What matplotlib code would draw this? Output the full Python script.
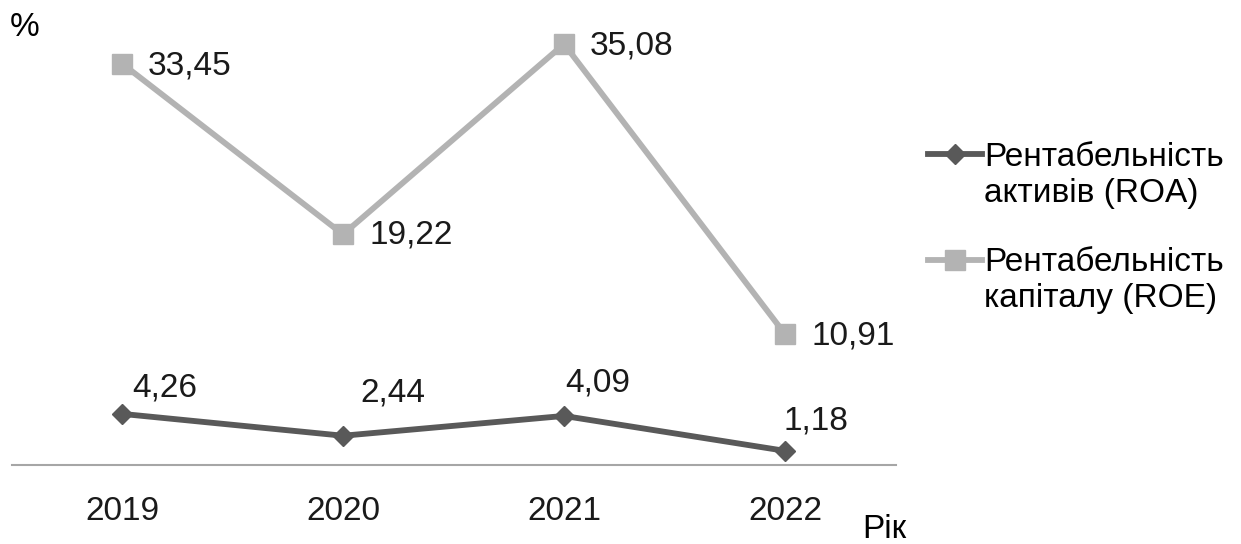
import numpy as np
import matplotlib.pyplot as plt
from matplotlib.legend_handler import HandlerLine2D

plt.rcParams['font.family'] = ['Liberation Sans', 'DejaVu Sans']

years = ["2019", "2020", "2021", "2022"]
roa = [4.26, 2.44, 4.09, 1.18]
roe = [33.45, 19.22, 35.08, 10.91]
roa_labels = ["4,26", "2,44", "4,09", "1,18"]
roe_labels = ["33,45", "19,22", "35,08", "10,91"]

# label offsets in pixels
roa_off = [(10, 26), (17, 43), (1, 33), (-2, 30)]
roe_off = [(26, -2), (26, -1), (26, -2), (26, -2)]


class TopLineHandler(HandlerLine2D):
    # put the legend marker next to the first line of a two-line label
    def create_artists(self, legend, orig_handle, xdescent, ydescent,
                       width, height, fontsize, trans):
        return super().create_artists(legend, orig_handle, xdescent,
                                      ydescent - 1.3 * fontsize, width, height,
                                      fontsize, trans)


fig = plt.figure(figsize=(12.41, 5.44), dpi=100)
ax = fig.add_axes([0.0093, 0.1452, 0.7123, 0.8052])

x = np.arange(len(years))
l1, = ax.plot(x, roa, color="#595959", lw=4.2, marker="D", ms=10,
              label="Рентабельність\nактивів (ROA)")
l2, = ax.plot(x, roe, color="#b3b3b3", lw=4.2, marker="s", ms=14,
              label="Рентабельність\nкапіталу (ROE)")

for xi, v, t, o in zip(x, roa, roa_labels, roa_off):
    ax.annotate(t, (xi, v), xytext=o, textcoords="offset pixels",
                ha="left", va="center", fontsize=24, color="#1a1a1a")
for xi, v, t, o in zip(x, roe, roe_labels, roe_off):
    ax.annotate(t, (xi, v), xytext=o, textcoords="offset pixels",
                ha="left", va="center", fontsize=24, color="#1a1a1a")

ax.set_xlim(-0.5, 3.5)
ax.set_ylim(0, 36.5)
ax.set_xticks(x)
ax.set_xticklabels(years, fontsize=24)
ax.tick_params(axis="x", length=0, pad=22, colors="#1a1a1a")
ax.set_yticks([])
for s in ["top", "right", "left"]:
    ax.spines[s].set_visible(False)
ax.spines["bottom"].set_color("#a6a6a6")
ax.spines["bottom"].set_linewidth(1.5)

fig.text(25 / 1241, 1 - 28 / 544, "%", fontsize=24, ha="center", va="center")
fig.text(884 / 1241, 1 - 530 / 544, "Рік", fontsize=24, ha="center", va="center")

fig.legend(handles=[l1, l2], loc="upper left", bbox_to_anchor=(915 / 1241, 1 - 129 / 544),
           frameon=False, fontsize=24, handlelength=1.6, handletextpad=0.08,
           labelspacing=1.15, borderaxespad=0,
           handler_map={l1: TopLineHandler(), l2: TopLineHandler()})

fig.savefig("out.png", dpi=100)
